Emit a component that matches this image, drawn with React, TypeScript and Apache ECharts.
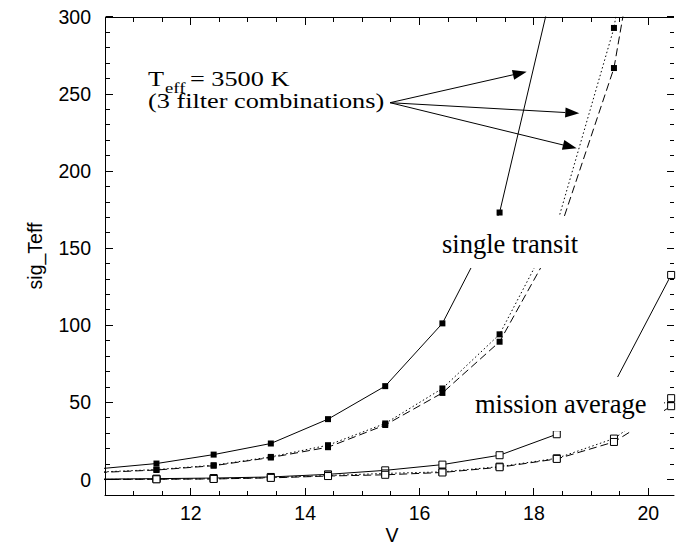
import React, { useEffect, useRef } from "react";
import * as echarts from "echarts";

// V magnitudes of the plotted points
const V_MAG = [10.4, 11.4, 12.4, 13.4, 14.4, 15.4, 16.4, 17.4, 18.4, 19.4, 20.4];

// single transit (filled squares), 3 filter combinations
const SINGLE_SOLID = [7.0, 10.4, 16.2, 23.4, 39.2, 60.6, 101.3, 173.2, 331, null, null];
const SINGLE_DOTTED = [4.9, 6.5, 9.3, 14.7, 22.3, 36.4, 59.1, 94.2, 165.2, 292.9, 520];
const SINGLE_DASHED = [4.6, 6.2, 9.0, 14.3, 21.0, 35.4, 56.2, 89.4, 156.1, 266.9, 480];

// mission average (open squares), 3 filter combinations
const MISSION_SOLID = [0.3, 0.6, 1.0, 1.7, 3.4, 6.0, 9.7, 15.8, 29.4, 62.0, 132.7];
const MISSION_DOTTED = [0.1, 0.3, 0.5, 1.3, 2.6, 4.0, 5.0, 8.4, 13.8, 26.6, 52.8];
const MISSION_DASHED = [0.0, 0.2, 0.4, 1.1, 2.3, 3.1, 4.6, 8.0, 13.4, 24.4, 47.6];

const X_LABELS = [12, 14, 16, 18, 20];
const Y_LABELS = [0, 50, 100, 150, 200, 250, 300];
const X_MINOR_STEP = 0.5;
const Y_MINOR_STEP = 10;

const X_MIN = 10.5;
const X_MAX = 20.45;
const Y_MIN = -10;
const Y_MAX = 300;

const SANS = "Liberation Sans";
const SERIF = "Liberation Serif";

const DOTTED = [1.5, 2.5];
const DASHED = [8, 4];

function pairs(arr: (number | null)[]) {
  return V_MAG.map((x, i) => [x, arr[i]]);
}

function arrow(x1: number, y1: number, x2: number, y2: number) {
  const dx = x2 - x1;
  const dy = y2 - y1;
  const len = Math.sqrt(dx * dx + dy * dy);
  const ux = dx / len;
  const uy = dy / len;
  const hl = 14;
  const hw = 5;
  const bx = x2 - ux * hl;
  const by = y2 - uy * hl;
  return [
    {
      type: "line",
      z: 100,
      shape: { x1, y1, x2: bx, y2: by },
      style: { stroke: "#000", lineWidth: 1 },
    },
    {
      type: "polygon",
      z: 100,
      shape: {
        points: [
          [x2, y2],
          [bx - uy * hw, by + ux * hw],
          [bx + uy * hw, by - ux * hw],
        ],
      },
      style: { fill: "#000" },
    },
  ];
}

export default function App() {
  const ref = useRef<HTMLDivElement>(null);

  useEffect(() => {
    if (!ref.current) return;
    const chart = echarts.init(ref.current, null, { renderer: "svg" });

    const xAxis = {
      type: "value",
      position: "bottom",
      min: X_MIN,
      max: X_MAX,
      splitLine: { show: false },
      axisLine: { show: true, onZero: false, lineStyle: { color: "#000", width: 1 } },
      axisTick: { show: false },
      axisLabel: {
        show: true,
        margin: 8,
        color: "#000",
        fontSize: 19.5,
        fontFamily: SANS,
        formatter: (v: number) => (X_LABELS.includes(v) ? String(v) : ""),
      },
    };

    const yAxis = {
      type: "value",
      position: "left",
      min: Y_MIN,
      max: Y_MAX,
      splitLine: { show: false },
      axisLine: { show: true, onZero: false, lineStyle: { color: "#000", width: 1 } },
      axisTick: { show: false },
      axisLabel: {
        show: true,
        margin: 14,
        color: "#000",
        fontSize: 19.5,
        fontFamily: SANS,
        formatter: (v: number) => (Y_LABELS.includes(v) ? String(v) : ""),
      },
    };

    const mk = (name: string, arr: (number | null)[], type: any, open: boolean) => ({
      name,
      type: "line",
      data: pairs(arr),
      clip: true,
      symbol: "rect",
      symbolSize: open ? 7 : 6,
      showSymbol: true,
      connectNulls: false,
      silent: true,
      z: open ? 3 : 4,
      lineStyle: { color: "#000", width: 1, type },
      itemStyle: open
        ? { color: "#fff", borderColor: "#000", borderWidth: 1 }
        : { color: "#000" },
      emphasis: { disabled: true },
    });

    const series = [
      mk("single solid", SINGLE_SOLID, "solid", false),
      mk("single dotted", SINGLE_DOTTED, DOTTED, false),
      mk("single dashed", SINGLE_DASHED, DASHED, false),
      mk("mission solid", MISSION_SOLID, "solid", true),
      mk("mission dotted", MISSION_DOTTED, DOTTED, true),
      mk("mission dashed", MISSION_DASHED, DASHED, true),
    ];

    chart.setOption({
      animation: false,
      grid: { left: 105, top: 17, right: 0, bottom: 50 },
      xAxis,
      yAxis,
      series,
    });

    // pixel positions from the chart's own scales
    const px = (x: number, y: number) =>
      chart.convertToPixel({ gridIndex: 0 }, [x, y]) as number[];
    const left = Math.round(px(X_MIN, Y_MIN)[0]);
    const right = Math.round(px(X_MAX, Y_MIN)[0]);
    const bottom = Math.round(px(X_MIN, Y_MIN)[1]);
    const top = Math.round(px(X_MIN, Y_MAX)[1]);

    // frame and ticks gathered into one path of 1px bars
    let d = "";
    const bar = (x: number, y: number, w: number, h: number) => {
      d += `M${x} ${y}L${x + w} ${y}L${x + w} ${y + h}L${x} ${y + h}Z`;
    };
    bar(left, top, right - left, 1);
    bar(left, bottom, right - left, 1);
    bar(left, top, 1, bottom - top + 1);
    const xTick = (v: number, len: number) => {
      const x = Math.round(px(v, Y_MIN)[0] - 0.5);
      bar(x, bottom - len, 1, len);
      bar(x, top + 1, 1, len);
    };
    const yTick = (v: number, len: number) => {
      const y = Math.round(px(X_MIN, v)[1] - 0.5);
      bar(left + 1, y, len, 1);
      bar(right - len, y, len, 1);
    };
    for (let v = 11; v <= 20.001; v += X_MINOR_STEP) xTick(v, 4);
    X_LABELS.forEach((v) => xTick(v, 7));
    for (let v = 0; v < Y_MAX; v += Y_MINOR_STEP) yTick(v, 4);
    Y_LABELS.forEach((v) => yTick(v, 7));

    echarts.graphic.registerShape("axisFrameTicks", echarts.graphic.extendPath(d, {}));

    const serifText = (
      text: string,
      x: number,
      y: number,
      size: number,
      sx: number = 1
    ) => ({
      type: "text",
      z: 101,
      x,
      y,
      scaleX: sx,
      style: {
        text,
        fill: "#000",
        fontSize: size,
        fontFamily: SERIF,
        align: "left",
        verticalAlign: "middle",
      },
    });

    const graphic: any[] = [
      // white boxes behind the labels
      { type: "rect", z: 100, shape: { x: 432, y: 216, width: 158, height: 52 }, style: { fill: "#fff" } },
      { type: "rect", z: 100, shape: { x: 465, y: 377, width: 199, height: 54 }, style: { fill: "#fff" } },
      serifText("single transit", 442, 243.5, 26.5),
      serifText("mission average", 475, 404, 26.5),
      serifText("T", 148, 79, 21, 1.25),
      serifText("eff", 165, 88.5, 15, 1.25),
      serifText("= 3500 K", 190, 79, 21, 1.25),
      serifText("(3 filter combinations)", 148, 101, 21, 1.25),
      ...arrow(390, 102.7, 526.7, 71.7),
      ...arrow(390, 102.7, 579.3, 113.3),
      ...arrow(390, 102.7, 576.7, 148.3),
      {
        type: "text",
        z: 101,
        x: 392,
        y: 535,
        style: {
          text: "V",
          fill: "#000",
          fontSize: 19.5,
          fontFamily: SANS,
          align: "center",
          verticalAlign: "middle",
        },
      },
      {
        type: "text",
        z: 101,
        x: 35,
        y: 256,
        rotation: Math.PI / 2,
        style: {
          text: "sig_Teff",
          fill: "#000",
          fontSize: 19.5,
          fontFamily: SANS,
          align: "center",
          verticalAlign: "middle",
        },
      },
      {
        type: "axisFrameTicks",
        z: 102,
        x: 0,
        y: 0,
        scaleX: 1,
        scaleY: 1,
        style: { fill: "#000" },
      },
    ];

    chart.setOption({ graphic });

    return () => chart.dispose();
  }, []);

  return (
    <div
      ref={ref}
      style={{ position: "fixed", left: 0, top: 0, width: 677, height: 545, background: "#fff" }}
    />
  );
}
